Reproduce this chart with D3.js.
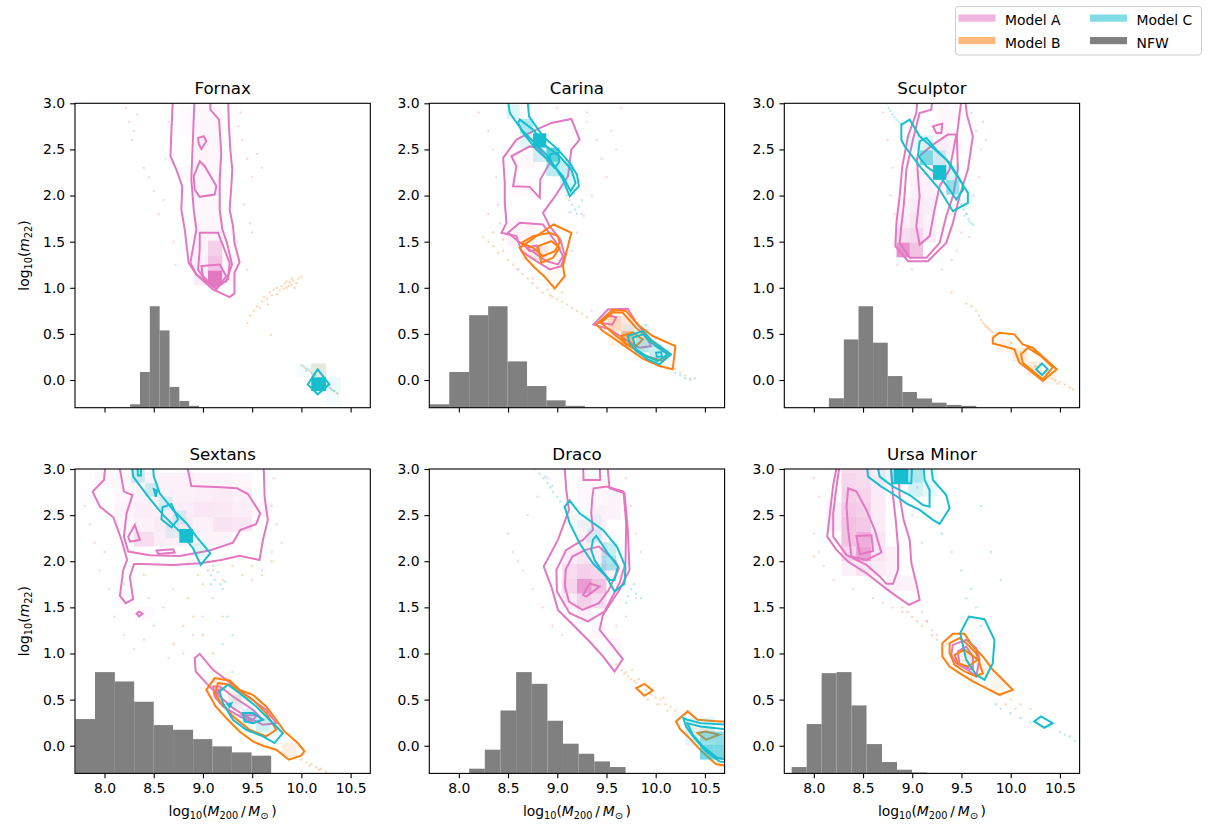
<!DOCTYPE html>
<html>
<head>
<meta charset="utf-8">
<script src="https://cdn.jsdelivr.net/npm/d3@7"></script>
<style>
  body { margin: 0; background: #fff; }
  svg { font-family: "DejaVu Sans", sans-serif; }
</style>
</head>
<body>
<svg id="chart" width="1214" height="824"></svg>
<script>
// ---------- data ----------
const galaxies = ["Fornax", "Carina", "Sculptor", "Sextans", "Draco", "Ursa Minor"];
const models = ["Model A", "Model B", "Model C", "NFW"];
const modelColors = ["#e377c2", "#ff7f0e", "#17becf", "#808080"];
const xTicks = [8.0, 8.5, 9.0, 9.5, 10.0, 10.5];
const yTicks = [0.0, 0.5, 1.0, 1.5, 2.0, 2.5, 3.0];
const xDomain = [7.7, 10.7];
const yDomain = [-0.3, 3.0];

// NFW halo-mass histograms: bin edges and bar tops (bars rise from the lower axis limit)
const fornaxNfwEdges = [8.26, 8.36, 8.46, 8.56, 8.66, 8.76, 8.86, 8.96];
const fornaxNfwTops = [-0.263, 0.087, 0.80, 0.538, -0.075, -0.227, -0.28];
const carinaNfwEdges = [7.706, 7.903, 8.105, 8.298, 8.495, 8.693, 8.89, 9.085, 9.28];
const carinaNfwTops = [-0.263, 0.087, 0.703, 0.80, 0.202, -0.065, -0.22, -0.28];
const sculptorNfwEdges = [8.153, 8.305, 8.454, 8.602, 8.751, 8.9, 9.048, 9.2, 9.349, 9.498, 9.65];
const sculptorNfwTops = [-0.198, 0.44, 0.80, 0.405, 0.043, -0.13, -0.20, -0.245, -0.27, -0.28];
const sextansNfwEdges = [7.705, 7.903, 8.105, 8.301, 8.5, 8.696, 8.9, 9.095, 9.294, 9.494, 9.693];
const sextansNfwTops = [0.289, 0.798, 0.697, 0.477, 0.224, 0.173, 0.072, -0.007, -0.072, -0.108];
const dracoNfwEdges = [8.105, 8.264, 8.423, 8.582, 8.741, 8.9, 9.058, 9.217, 9.376, 9.535, 9.694];
const dracoNfwTops = [-0.249, -0.043, 0.382, 0.798, 0.671, 0.271, 0.022, -0.087, -0.17, -0.231];
const ursaNfwEdges = [7.775, 7.927, 8.079, 8.231, 8.383, 8.535, 8.693, 8.845, 8.997, 9.149];
const ursaNfwTops = [-0.231, 0.235, 0.787, 0.798, 0.437, 0.018, -0.177, -0.26, -0.29];

// Credible-region contours, flat [x, y, x, y, ...] in (log10 M200, log10 m22)
const fornaxContoursA = [
  [8.697,3.1, 8.68,2.715, 8.67,2.426, 8.73,2.28, 8.79,2.10, 8.78,1.85, 8.815,1.63, 8.855,1.27, 8.933,1.144, 9.10,0.982, 9.271,0.899, 9.32,0.939, 9.32,1.162, 9.372,1.278, 9.32,1.487, 9.305,1.668, 9.271,1.848, 9.288,2.10, 9.298,2.28, 9.278,2.50, 9.264,2.75, 9.254,3.1],
  [8.916,3.1, 8.899,2.643, 8.882,2.173, 8.906,1.848, 8.933,1.632, 8.872,1.271, 8.933,1.144, 9.102,1.011, 9.237,1.072, 9.295,1.253, 9.244,1.487, 9.197,1.632, 9.17,1.848, 9.17,2.173, 9.186,2.462, 9.163,2.823, 9.075,2.931, 9.075,3.1],
  [8.95,2.625, 9.007,2.643, 9.034,2.588, 8.984,2.505, 8.957,2.563],
  [8.906,2.209, 8.967,2.372, 9.018,2.318, 9.136,2.101, 9.119,2.011, 8.967,1.986, 8.916,2.065],
  [8.967,1.596, 9.153,1.596, 9.271,1.271, 9.254,1.090, 9.136,1.0, 9.018,1.090, 8.95,1.199, 8.967,1.415],
  [8.984,1.235, 9.17,1.253, 9.237,1.126, 9.136,0.982, 9.0,1.126]
];
const fornaxContoursB = [];
const fornaxContoursC = [
  [10.166,0.116, 10.284,-0.047, 10.166,-0.155, 10.065,-0.047]
];

const carinaContoursA = [
  [8.45,2.408, 8.585,2.606, 8.788,2.715, 8.94,2.787, 9.143,2.83, 9.227,2.606, 9.143,2.498, 9.109,2.209, 8.99,2.011, 8.855,1.812, 8.923,1.668, 9.031,1.523, 9.075,1.361, 9.041,1.235, 8.923,1.199, 8.788,1.289, 8.636,1.397, 8.585,1.56, 8.433,1.596, 8.484,1.704, 8.467,1.921, 8.467,2.137],
  [8.551,2.101, 8.585,2.318, 8.534,2.426, 8.72,2.534, 8.805,2.516, 8.923,2.354, 8.828,2.173, 8.822,1.975, 8.72,2.094],
  [8.50,1.596, 8.619,1.704, 8.855,1.686, 8.99,1.487, 9.058,1.343, 9.007,1.253, 8.889,1.289, 8.72,1.415, 8.602,1.505],
  [8.687,1.433, 8.788,1.458, 8.805,1.415, 8.72,1.397],
  [9.369,0.603, 9.514,0.765, 9.717,0.773, 9.801,0.621, 9.886,0.513, 9.953,0.368, 9.835,0.35, 9.666,0.458, 9.531,0.549],
  [9.43,0.62, 9.52,0.70, 9.60,0.68, 9.56,0.60]
];
const carinaContoursB = [
  [8.619,1.433, 8.788,1.56, 8.963,1.686, 9.143,1.596, 9.092,1.379, 9.058,1.235, 9.075,1.126, 8.974,0.993, 8.872,1.119, 8.771,1.217, 8.686,1.314],
  [8.636,1.487, 8.754,1.56, 8.923,1.596, 9.007,1.56, 9.024,1.487, 8.974,1.397, 8.855,1.343, 8.754,1.433],
  [8.805,1.451, 8.94,1.505, 9.024,1.433, 8.957,1.325, 8.838,1.271],
  [9.396,0.603, 9.565,0.765, 9.70,0.747, 9.835,0.585, 9.97,0.477, 10.2,0.368, 10.173,0.116, 10.038,0.152, 9.869,0.231, 9.734,0.332, 9.615,0.422, 9.463,0.531],
  [9.446,0.621, 9.565,0.736, 9.666,0.729, 9.801,0.567, 9.936,0.441, 10.122,0.296, 10.072,0.206, 9.903,0.26, 9.734,0.368, 9.598,0.477],
  [9.649,0.477, 9.767,0.513, 9.869,0.44, 9.801,0.368, 9.70,0.386]
];
const carinaContoursC = [
  [8.49,3.1, 8.518,2.895, 8.636,2.715, 8.771,2.570, 8.889,2.444, 8.974,2.318, 9.058,2.173, 9.126,1.993, 9.22,2.101, 9.2,2.227, 9.126,2.354, 9.007,2.498, 8.855,2.643, 8.713,2.859, 8.693,3.1],
  [8.619,2.823, 8.754,2.715, 8.889,2.534, 9.024,2.426, 9.143,2.282, 9.186,2.137, 9.136,2.047, 9.058,2.209, 8.94,2.354, 8.788,2.498, 8.653,2.679, 8.602,2.787],
  [8.923,2.444, 9.007,2.462, 9.024,2.372, 8.974,2.30, 8.94,2.336],
  [9.717,0.477, 9.869,0.531, 9.97,0.422, 10.156,0.278, 10.038,0.17, 9.919,0.224, 9.801,0.314, 9.734,0.404],
  [9.767,0.458, 9.869,0.495, 9.953,0.404, 10.122,0.278, 10.021,0.206, 9.903,0.26, 9.801,0.332],
  [10.004,0.296, 10.055,0.303, 10.065,0.253, 10.011,0.253]
];

const sculptorContoursA = [
  [9.058,3.1, 9.041,2.895, 8.957,2.643, 8.899,2.318, 8.872,1.993, 8.839,1.704, 8.828,1.451, 8.957,1.289, 9.159,1.289, 9.345,1.487, 9.413,1.704, 9.48,1.993, 9.565,2.282, 9.616,2.643, 9.555,2.877, 9.531,3.1],
  [9.21,3.1, 9.193,2.931, 9.075,2.895, 9.007,2.606, 8.94,2.282, 8.916,1.921, 8.889,1.668, 8.872,1.487, 8.974,1.325, 9.143,1.325, 9.278,1.487, 9.345,1.776, 9.413,1.993, 9.463,2.282, 9.453,2.643, 9.48,2.877, 9.507,3.1],
  [9.048,2.408, 9.21,2.552, 9.362,2.661, 9.447,2.661, 9.413,2.462, 9.379,2.282, 9.278,2.101, 9.227,1.848, 9.176,1.56, 9.075,1.469, 9.041,1.668, 9.075,1.993, 9.058,2.209],
  [9.21,2.751, 9.305,2.78, 9.295,2.679, 9.244,2.679]
];
const sculptorContoursB = [
  [9.818,0.458, 9.886,0.513, 10.038,0.495, 10.122,0.386, 10.224,0.35, 10.467,0.116, 10.325,-0.011, 10.224,0.079, 10.088,0.188, 10.038,0.332, 9.919,0.368, 9.818,0.397],
  [10.105,0.278, 10.173,0.35, 10.308,0.26, 10.426,0.137, 10.325,0.007, 10.224,0.097, 10.122,0.188]
];
const sculptorContoursC = [
  [8.889,2.769, 8.974,2.823, 9.075,2.643, 9.345,2.39, 9.48,2.173, 9.565,2.029, 9.565,1.921, 9.413,1.83, 9.278,2.065, 9.075,2.318, 8.923,2.534, 8.889,2.606],
  [9.075,2.588, 9.143,2.625, 9.244,2.498, 9.379,2.354, 9.514,2.119, 9.514,2.058, 9.447,1.957, 9.379,2.065, 9.278,2.209, 9.143,2.318, 9.058,2.433],
  [10.318,0.18, 10.376,0.116, 10.318,0.054, 10.258,0.116]
];

const sextansContoursA = [
  [8.014,3.1, 7.994,2.881, 7.879,2.755, 7.953,2.592, 8.089,2.477, 8.173,2.231, 8.23,2.014, 8.19,1.906, 8.156,1.625, 8.217,1.545, 8.291,1.588, 8.257,1.834, 8.30,1.97, 8.393,1.971, 8.697,1.96, 8.967,1.978, 9.186,2.014, 9.372,2.058, 9.575,2.014, 9.609,2.231, 9.659,2.448, 9.626,2.70, 9.615,3.1],
  [8.139,3.1, 8.197,2.755, 8.284,2.718, 8.224,2.52, 8.197,2.267, 8.241,2.105, 8.46,2.065, 8.764,2.058, 9.068,2.116, 9.305,2.202, 9.379,2.339, 9.541,2.404, 9.582,2.52, 9.457,2.729, 9.345,2.791, 9.186,2.802, 8.882,2.816, 8.825,3.1],
  [8.352,1.455, 8.386,1.43, 8.352,1.401, 8.325,1.43],
  [8.308,2.394, 8.359,2.231, 8.257,2.213, 8.241,2.267],
  [8.528,2.116, 8.697,2.13, 8.713,2.094, 8.545,2.079],
  [8.916,0.949, 8.967,0.996, 9.102,0.823, 9.237,0.715, 9.389,0.588, 9.524,0.48, 9.642,0.39, 9.744,0.245, 9.609,0.227, 9.44,0.318, 9.305,0.408, 9.17,0.534, 9.034,0.679, 8.926,0.805],
  [9.102,0.643, 9.17,0.643, 9.305,0.534, 9.507,0.39, 9.609,0.282, 9.507,0.245, 9.372,0.318, 9.203,0.426, 9.119,0.534],
  [9.13,0.60, 9.17,0.61, 9.16,0.57],
  [9.40,0.33, 9.55,0.33, 9.50,0.27]
];
const sextansContoursB = [
  [9.119,0.733, 9.271,0.708, 9.372,0.606, 9.507,0.552, 9.642,0.426, 9.744,0.282, 9.828,0.155, 9.963,0.029, 10.031,-0.061, 9.997,-0.108, 9.872,-0.152, 9.744,-0.043, 9.609,0.0, 9.507,0.047, 9.372,0.155, 9.237,0.30, 9.129,0.426, 9.034,0.606],
  [9.153,0.679, 9.271,0.661, 9.507,0.498, 9.642,0.354, 9.744,0.173, 9.642,0.101, 9.473,0.173, 9.305,0.318, 9.186,0.462, 9.119,0.57]
];
const sextansContoursC = [
  [8.274,3.1, 8.291,2.917, 8.443,2.70, 8.595,2.502, 8.764,2.321, 8.899,2.141, 8.977,1.96, 9.075,2.087, 8.933,2.267, 8.832,2.412, 8.697,2.556, 8.561,2.736, 8.501,2.917, 8.487,3.1],
  [8.589,2.585, 8.68,2.621, 8.747,2.455, 8.68,2.368, 8.578,2.455],
  [8.501,2.78, 8.534,2.765, 8.521,2.70],
  [8.33,3.1, 8.34,2.93, 8.37,2.93, 8.37,3.1],
  [9.169,0.588, 9.254,0.661, 9.372,0.57, 9.541,0.426, 9.676,0.282, 9.811,0.137, 9.727,0.029, 9.609,0.101, 9.44,0.173, 9.305,0.282, 9.203,0.462],
  [9.406,0.354, 9.507,0.354, 9.609,0.282, 9.507,0.245, 9.423,0.263],
  [9.25,0.45, 9.29,0.46, 9.27,0.42]
];

const dracoContoursA = [
  [9.068,3.1, 9.092,2.773, 9.119,2.556, 9.007,2.231, 8.862,1.942, 8.94,1.726, 9.007,1.473, 9.159,1.311, 9.328,1.13, 9.464,0.968, 9.582,0.805, 9.666,0.939, 9.565,1.076, 9.43,1.256, 9.464,1.419, 9.632,1.69, 9.734,1.906, 9.717,2.339, 9.683,2.736, 9.531,2.791, 9.504,3.1],
  [9.355,2.682, 9.369,2.791, 9.504,2.809, 9.673,2.755, 9.70,2.412, 9.693,1.978, 9.632,1.762, 9.48,1.455, 9.311,1.347, 9.126,1.437, 8.997,1.671, 8.991,1.906, 9.092,2.123, 9.261,2.231, 9.362,2.339, 9.345,2.52],
  [9.261,3.1, 9.267,2.881, 9.436,2.881, 9.43,3.1],
  [9.085,1.906, 9.153,2.051, 9.288,2.123, 9.423,2.159, 9.592,1.996, 9.626,1.924, 9.524,1.69, 9.423,1.545, 9.255,1.473, 9.119,1.563, 9.078,1.726],
  [9.261,1.635, 9.328,1.76, 9.43,1.726, 9.295,1.617]
];
const dracoContoursB = [
  [10.207,0.264, 10.325,0.372, 10.426,0.282, 10.646,0.264, 10.75,0.264, 10.75,-0.224, 10.612,-0.199, 10.477,-0.072, 10.342,0.083, 10.247,0.181],
  [10.426,0.137, 10.511,0.155, 10.646,0.119, 10.511,0.065],
  [9.801,0.625, 9.886,0.671, 9.97,0.599, 9.886,0.542]
];
const dracoContoursC = [
  [9.075,2.592, 9.126,2.657, 9.227,2.52, 9.464,2.339, 9.605,2.159, 9.693,1.942, 9.683,1.755, 9.582,1.671, 9.497,1.834, 9.362,1.978, 9.227,2.195, 9.126,2.412],
  [9.362,2.231, 9.396,2.275, 9.447,2.195, 9.514,2.087, 9.616,1.942, 9.582,1.798, 9.531,1.798, 9.447,1.906, 9.379,2.014, 9.345,2.123],
  [10.281,0.3, 10.321,0.282, 10.456,0.245, 10.75,0.227, 10.75,-0.188, 10.646,-0.17, 10.511,-0.061, 10.393,0.083, 10.308,0.209],
  [10.321,0.245, 10.456,0.209, 10.75,0.173, 10.75,-0.152, 10.629,-0.134, 10.477,-0.007, 10.376,0.119]
];

const ursaContoursA = [
  [8.247,3.1, 8.197,2.827, 8.163,2.52, 8.136,2.267, 8.23,2.123, 8.349,1.996, 8.534,1.87, 8.686,1.744, 8.805,1.646, 8.967,1.527, 9.075,1.581, 9.041,1.762, 8.991,1.978, 8.974,2.231, 8.913,2.448, 8.872,2.70, 8.855,3.1],
  [8.271,3.1, 8.23,2.809, 8.197,2.52, 8.197,2.267, 8.332,2.069, 8.534,1.96, 8.67,1.834, 8.737,1.755, 8.805,1.755, 8.855,1.906, 8.855,2.159, 8.832,2.448, 8.805,2.70, 8.778,3.1],
  [8.349,2.791, 8.433,2.755, 8.534,2.556, 8.619,2.339, 8.686,2.094, 8.534,2.014, 8.382,2.051, 8.349,2.339, 8.332,2.592],
  [8.433,2.274, 8.585,2.282, 8.602,2.112, 8.467,2.076],
  [9.413,1.094, 9.548,1.148, 9.649,1.058, 9.683,0.932, 9.649,0.751, 9.565,0.823, 9.447,0.895, 9.396,0.986],
  [9.464,1.022, 9.548,1.076, 9.616,0.968, 9.616,0.823, 9.48,0.877]
];
const ursaContoursB = [
  [9.305,1.112, 9.413,1.213, 9.531,1.213, 9.616,1.076, 9.717,0.968, 9.818,0.823, 9.92,0.715, 10.021,0.606, 9.886,0.552, 9.751,0.625, 9.616,0.697, 9.48,0.787, 9.379,0.859, 9.305,0.968],
  [9.379,1.112, 9.48,1.166, 9.548,1.112, 9.649,1.004, 9.683,0.895, 9.717,0.787, 9.649,0.751, 9.531,0.805, 9.43,0.877, 9.379,1.004],
  [9.43,0.986, 9.531,1.04, 9.666,0.932, 9.565,0.859, 9.464,0.895]
];
const ursaContoursC = [
  [8.534,3.1, 8.551,2.917, 8.686,2.809, 8.822,2.718, 8.94,2.628, 9.075,2.556, 9.21,2.448, 9.278,2.404, 9.379,2.574, 9.345,2.718, 9.21,2.881, 9.183,3.1],
  [8.636,3.1, 8.669,2.917, 8.805,2.809, 8.974,2.718, 9.109,2.61, 9.176,2.592, 9.176,2.773, 9.126,2.881, 9.109,3.1],
  [8.78,3.1, 8.795,2.845, 8.99,2.845, 9.0,3.1],
  [9.487,1.22, 9.575,1.401, 9.734,1.372, 9.835,1.148, 9.818,0.895, 9.734,0.715, 9.649,0.769, 9.548,0.931],
  [10.24,0.264, 10.308,0.318, 10.426,0.245, 10.342,0.195]
];

// 2D posterior histogram cells: flat [x0, y0, weight, ...]; bin sizes [dx, dy]
const fornaxBinsA = [0.145, 0.162];
const fornaxCellsA = [9.051,1.025,1.0, 9.051,1.187,0.45, 9.051,1.349,0.35, 8.906,1.025,0.12, 8.906,1.187,0.1, 8.906,1.349,0.08, 9.196,1.025,0.05, 9.196,1.187,0.05, 8.906,1.511,0.07, 9.051,1.511,0.07, 8.906,1.673,0.06, 9.051,1.673,0.05, 8.906,1.835,0.06, 9.051,1.835,0.05, 8.906,1.997,0.06, 9.051,1.997,0.06, 8.761,2.159,0.04, 8.906,2.159,0.07, 9.051,2.159,0.06, 8.906,2.321,0.08, 9.051,2.321,0.05, 8.906,2.483,0.1, 9.051,2.483,0.06, 8.906,2.645,0.07, 9.051,2.645,0.05, 8.761,2.645,0.04, 8.761,2.807,0.04, 8.906,2.807,0.05, 9.051,2.807,0.05];
const fornaxBinsB = [0.15, 0.15];
const fornaxCellsB = [10.10,0.03,0.12];
const fornaxBinsC = [0.15, 0.15];
const fornaxCellsC = [10.10,-0.12,1.0, 10.10,0.03,0.1, 10.25,-0.12,0.08, 10.25,-0.27,0.04, 9.95,0.03,0.04];

const carinaBinsA = [0.135, 0.155];
const carinaCellsA = [8.5,1.45,0.1, 8.635,1.45,0.08, 8.77,1.3,0.08, 8.635,1.3,0.06, 8.5,1.6,0.05, 8.635,1.6,0.06, 8.5,2.0,0.04, 8.635,2.0,0.05, 8.635,2.3,0.05, 8.77,2.3,0.04, 8.5,2.3,0.04, 9.53,0.55,0.08, 9.665,0.55,0.06, 9.665,0.4,0.06];
const carinaBinsB = [0.135, 0.16];
const carinaCellsB = [9.649,0.37,0.5, 9.514,0.53,0.25, 9.649,0.53,0.12, 9.784,0.37,0.12, 9.784,0.21,0.08, 9.514,0.37,0.08, 8.77,1.3,0.1, 8.635,1.3,0.06, 8.905,1.14,0.05];
const carinaBinsC = [0.135, 0.155];
const carinaCellsC = [8.754,2.52,1.0, 8.889,2.365,0.7, 8.619,2.675,0.35, 8.484,2.83,0.15, 8.889,2.21,0.3, 9.024,2.21,0.25, 9.024,2.055,0.15, 8.754,2.365,0.2, 8.619,2.52,0.12, 9.8,0.3,0.3, 9.935,0.22,0.25, 9.8,0.45,0.12, 9.665,0.45,0.08];

const sculptorBinsA = [0.135, 0.16];
const sculptorCellsA = [8.84,1.33,0.8, 8.975,1.33,0.45, 8.84,1.49,0.25, 8.975,1.49,0.3, 9.11,1.49,0.12, 8.975,1.65,0.2, 8.84,1.65,0.12, 9.11,1.65,0.1, 8.975,1.81,0.15, 8.84,1.81,0.08, 9.11,1.81,0.12, 8.975,1.97,0.1, 9.11,1.97,0.1, 9.245,1.97,0.08, 8.975,2.13,0.08, 9.11,2.13,0.1, 9.245,2.13,0.08, 9.11,2.29,0.08, 9.245,2.29,0.1, 9.245,2.45,0.12, 9.11,2.45,0.06, 9.245,2.61,0.08, 9.38,2.45,0.06, 9.245,2.77,0.05, 9.38,2.77,0.05, 9.245,2.93,0.05, 9.38,2.93,0.04];
const sculptorBinsB = [0.15, 0.15];
const sculptorCellsB = [9.87,0.3,0.08, 10.02,0.2,0.15, 10.17,0.05,0.15, 10.32,-0.05,0.06];
const sculptorBinsC = [0.135, 0.16];
const sculptorCellsC = [9.21,2.17,1.0, 9.075,2.33,0.55, 9.21,2.33,0.2, 9.345,2.01,0.45, 9.075,2.49,0.15, 8.94,2.49,0.1, 9.345,2.17,0.15, 9.48,1.85,0.06];

const sextansBinsA = [0.2, 0.16];
const sextansCellsA = [8.3,2.16,0.25, 8.1,2.48,0.08, 8.3,2.48,0.12, 8.5,2.32,0.15, 8.7,2.48,0.12, 8.9,2.48,0.18, 9.1,2.48,0.16, 9.1,2.32,0.2, 9.3,2.32,0.18, 8.9,2.64,0.12, 9.1,2.64,0.15, 8.7,2.64,0.1, 8.5,2.64,0.1, 8.5,2.48,0.1, 8.3,2.8,0.08, 8.5,2.8,0.1, 8.7,2.8,0.1, 8.9,2.8,0.08, 9.1,2.8,0.08, 9.3,2.64,0.1, 9.3,2.48,0.12, 8.5,2.16,0.12, 8.7,2.16,0.1, 8.9,2.16,0.08, 9.1,2.16,0.08, 8.1,2.64,0.06, 7.9,2.8,0.05, 8.1,2.8,0.06, 9.5,2.48,0.06, 8.3,2.32,0.1, 8.7,2.32,0.15, 8.9,2.32,0.1, 8.1,2.32,0.05, 8.3,2.64,0.08, 9.3,2.8,0.05, 8.1,1.5,0.04, 8.3,1.35,0.04, 9.1,0.6,0.05, 9.3,0.4,0.08];
const sextansBinsB = [0.15, 0.15];
const sextansCellsB = [9.8,-0.12,0.12, 9.1,0.6,0.08, 9.25,0.45,0.08, 9.55,0.25,0.06];
const sextansBinsC = [0.14, 0.15];
const sextansCellsC = [8.76,2.2,1.0, 8.27,2.85,0.2, 8.41,2.7,0.2, 8.55,2.55,0.15, 8.69,2.4,0.15, 8.9,2.05,0.12, 8.62,2.25,0.1, 9.4,0.25,0.2, 9.54,0.15,0.2, 9.26,0.4,0.1, 9.68,0.1,0.1];

const dracoBinsA = [0.15, 0.16];
const dracoCellsA = [9.2,1.65,0.75, 9.35,1.65,0.45, 9.2,1.49,0.35, 9.05,1.65,0.3, 9.05,1.81,0.25, 9.2,1.81,0.35, 9.35,1.81,0.3, 9.35,1.49,0.25, 9.05,1.49,0.15, 9.2,1.97,0.2, 9.35,1.97,0.15, 9.05,1.97,0.12, 9.2,2.13,0.1, 9.35,2.13,0.1, 9.2,2.29,0.08, 9.35,2.29,0.1, 9.35,2.45,0.1, 9.5,2.45,0.08, 9.35,2.61,0.06, 9.5,2.61,0.08, 9.2,2.61,0.05, 9.2,2.77,0.05, 9.35,2.77,0.06, 9.05,2.45,0.04, 9.2,1.33,0.1, 9.35,1.17,0.06, 9.5,1.01,0.05, 9.5,1.81,0.1];
const dracoBinsB = [0.15, 0.15];
const dracoCellsB = [10.3,0.1,0.08, 10.45,0.05,0.1];
const dracoBinsC = [0.15, 0.155];
const dracoCellsC = [9.45,1.9,0.35, 9.45,2.05,0.25, 9.3,2.2,0.15, 9.3,2.355,0.08, 9.15,2.355,0.06, 10.45,-0.15,0.6, 10.6,-0.15,0.6, 10.45,0.0,0.45, 10.6,0.0,0.5, 10.3,0.0,0.12, 10.3,0.15,0.1, 10.45,0.15,0.15];

const ursaBinsA = [0.15, 0.16];
const ursaCellsA = [8.43,2.0,0.7, 8.43,2.16,0.6, 8.28,2.16,0.45, 8.28,2.32,0.45, 8.43,2.32,0.4, 8.28,2.48,0.4, 8.43,2.48,0.35, 8.28,2.64,0.35, 8.43,2.64,0.3, 8.28,2.80,0.3, 8.43,2.8,0.25, 8.28,2.96,0.25, 8.43,2.96,0.25, 8.28,2.0,0.3, 8.58,2.0,0.2, 8.58,1.84,0.15, 8.58,2.16,0.2, 8.58,2.32,0.15, 8.58,2.48,0.15, 8.58,2.64,0.15, 8.58,2.8,0.12, 8.58,2.96,0.12, 8.73,1.68,0.1, 8.73,1.84,0.1, 8.73,2.0,0.1, 8.88,1.68,0.08, 8.13,2.32,0.1, 8.13,2.48,0.1, 8.43,1.84,0.2, 8.28,1.84,0.1];
const ursaBinsB = [0.15, 0.15];
const ursaCellsB = [9.5,0.9,0.15, 9.65,0.75,0.1, 9.8,0.6,0.08];
const ursaBinsC = [0.15, 0.15];
const ursaCellsC = [8.81,2.85,1.0, 8.96,2.85,0.35, 8.96,2.7,0.2, 9.11,2.7,0.1, 8.66,2.85,0.1, 9.11,2.85,0.08, 9.55,0.85,0.06, 9.55,1.0,0.06];

// Posterior samples outside the contours, flat [x, y, ...]
const fornaxPointsA = [8.22,2.95, 8.25,2.8, 8.3,2.7, 8.28,2.6, 8.33,2.88, 8.45,2.2, 8.5,2.05, 8.55,1.8, 8.6,1.95, 9.4,2.6, 9.45,2.4, 9.5,2.2, 9.38,2.9, 9.55,2.45, 9.42,1.9, 9.48,1.7, 9.35,1.5, 8.62,2.4, 8.7,1.5, 9.6,2.3, 8.4,2.3, 9.45,1.2, 8.65,2.8, 9.36,2.75, 8.72,1.25, 9.5,1.6];
const fornaxPointsB = [9.45,0.62, 9.48,0.7, 9.52,0.75, 9.55,0.8, 9.6,0.85, 9.62,0.9, 9.65,0.88, 9.68,0.95, 9.7,0.92, 9.72,0.98, 9.75,1.0, 9.78,0.97, 9.8,1.02, 9.83,1.05, 9.85,1.0, 9.88,1.06, 9.9,1.03, 9.92,1.08, 9.95,1.05, 9.97,1.1, 9.75,0.93, 9.82,0.99, 9.87,1.02, 9.58,0.78, 9.66,0.82, 9.69,0.49, 10.0,1.12, 9.9,1.1, 9.85,1.07, 9.93,1.0, 10.0,0.16, 10.04,0.13, 10.08,0.1, 10.12,0.06, 10.2,0.0, 10.26,-0.05, 10.3,-0.09, 10.34,-0.12, 10.37,-0.15];
const fornaxPointsC = [10.02,0.15, 10.06,0.12, 10.1,0.08, 10.14,0.05, 10.18,0.02, 10.22,-0.02, 10.26,-0.06, 10.3,-0.1, 10.33,-0.12, 10.36,-0.14, 10.05,0.1, 10.12,0.04, 10.24,-0.04, 10.28,-0.08, 10.32,-0.11];

const carinaPointsA = [8.2,2.9, 8.3,2.7, 8.35,2.5, 8.38,2.2, 8.4,1.9, 8.42,1.7, 8.3,1.8, 9.3,2.8, 9.4,2.6, 9.45,2.4, 9.5,2.2, 9.35,2.0, 9.25,1.8, 9.2,1.6, 9.15,1.4, 9.3,2.9, 9.6,2.5, 9.55,2.7, 9.0,2.95, 8.6,1.2, 8.75,1.1, 9.35,0.75, 9.9,0.6, 10.0,0.45, 8.7,3.0, 9.65,2.95];
const carinaPointsB = [8.25,1.55, 8.3,1.5, 8.35,1.45, 8.4,1.38, 8.45,1.4, 8.5,1.3, 8.55,1.25, 8.6,1.2, 8.65,1.15, 8.7,1.1, 8.75,1.05, 8.8,1.0, 8.85,0.95, 8.9,0.98, 8.95,0.9, 9.0,0.88, 9.05,0.85, 9.1,0.82, 9.15,0.78, 9.2,0.75, 9.25,0.72, 9.3,0.68, 9.05,0.95, 8.98,1.0, 8.93,0.92, 10.25,0.08, 10.3,0.05, 10.35,0.02, 10.2,0.12, 8.35,1.6, 8.45,1.52];
const carinaPointsC = [9.1,2.0, 9.12,1.95, 9.15,1.9, 9.18,1.85, 9.2,1.8, 9.22,1.88, 9.17,2.02, 9.25,1.95, 9.13,1.82, 9.27,1.78, 10.25,0.05, 10.3,0.02, 10.35,0.0, 10.4,0.02, 10.2,0.08];

const sculptorPointsA = [8.7,2.9, 8.75,2.6, 8.8,2.3, 8.78,2.0, 8.82,1.8, 8.85,1.25, 9.0,1.2, 9.6,2.9, 9.65,2.7, 9.7,2.5, 9.68,2.2, 9.62,2.0, 9.55,1.8, 9.5,1.6, 9.45,1.4, 9.4,1.3, 9.72,2.8, 9.3,1.2, 9.75,2.6, 9.35,3.0, 8.9,3.0, 9.58,1.55];
const sculptorPointsB = [9.55,0.83, 9.6,0.8, 9.65,0.75, 9.68,0.7, 9.7,0.65, 9.72,0.62, 9.75,0.58, 9.78,0.55, 9.8,0.53, 9.82,0.52, 9.85,0.5, 9.74,0.6, 9.77,0.57, 9.83,0.48, 10.0,0.4, 10.1,0.3, 10.25,0.15, 10.4,0.05, 10.45,0.0, 10.5,-0.02, 10.55,-0.05, 10.6,-0.08, 10.63,-0.1, 10.48,-0.04, 9.4,0.95, 10.35,0.1, 10.42,0.02];
const sculptorPointsC = [8.74,3.0, 8.76,2.95, 8.78,2.92, 8.8,2.88, 8.82,2.85, 8.84,2.82, 8.86,2.8, 8.88,2.78, 8.9,2.76, 9.48,1.95, 9.5,1.9, 9.52,1.85, 9.55,1.8, 9.57,1.75, 9.6,1.7, 9.62,1.68, 9.53,1.78, 9.58,1.72];

const sextansPointsA = [7.8,2.6, 7.85,2.4, 7.9,2.2, 8.0,2.1, 7.95,1.9, 8.05,1.7, 8.1,1.4, 8.2,1.2, 8.3,1.05, 8.4,1.15, 8.5,1.3, 8.6,1.5, 8.7,1.7, 8.8,1.0, 8.9,1.2, 9.0,1.4, 9.1,1.6, 9.5,1.8, 9.6,1.9, 9.7,2.1, 9.75,2.4, 9.7,2.6, 9.72,2.9, 9.8,2.2, 8.45,1.6, 8.65,0.95];
const sextansPointsB = [8.95,1.85, 9.0,1.75, 9.1,1.9, 9.2,1.8, 9.3,1.95, 9.4,1.85, 9.5,1.95, 9.6,1.85, 9.7,2.0, 8.85,1.6, 8.9,1.4, 9.0,1.2, 8.8,1.3, 8.7,1.1, 9.1,1.0, 9.2,1.4, 10.0,-0.15, 10.05,-0.18, 10.1,-0.2, 10.15,-0.23, 10.2,-0.25, 10.25,-0.28, 10.08,-0.22, 10.18,-0.26, 8.2,1.75, 8.4,1.85];
const sextansPointsC = [9.05,1.9, 9.08,1.85, 9.1,1.95, 9.12,1.8, 9.15,1.88, 9.18,1.75, 9.2,1.7, 9.22,1.78, 9.08,1.75, 9.25,1.4, 9.3,1.2, 9.2,1.1, 9.3,0.8];

const dracoPointsA = [8.5,2.3, 8.55,2.1, 8.6,2.0, 8.65,1.9, 8.7,2.5, 8.8,2.7, 8.9,2.9, 8.75,1.7, 8.85,1.5, 9.8,2.3, 9.85,2.1, 9.75,2.6, 9.8,1.6, 9.7,1.4, 9.6,1.3, 9.7,2.9, 8.95,1.3, 9.05,1.2];
const dracoPointsB = [9.6,0.88, 9.65,0.82, 9.7,0.8, 9.72,0.75, 9.75,0.72, 9.78,0.7, 9.8,0.68, 9.85,0.65, 9.9,0.6, 9.95,0.56, 10.0,0.52, 10.05,0.5, 10.1,0.45, 10.15,0.42, 10.2,0.38, 9.68,0.78, 9.83,0.72, 9.92,0.5, 10.02,0.45, 10.12,0.38, 9.88,0.55, 9.76,0.82, 10.08,0.52];
const dracoPointsC = [8.78,3.0, 8.82,2.95, 8.86,2.9, 8.9,2.85, 8.93,2.8, 8.96,2.75, 9.0,2.7, 9.03,2.65, 8.88,2.92, 8.95,2.82, 9.75,1.7, 9.8,1.65, 9.85,1.6, 9.7,1.55, 9.78,1.75, 9.72,1.62];

const ursaPointsA = [8.0,2.3, 8.05,2.1, 8.1,1.95, 8.2,1.8, 8.4,1.7, 8.6,1.6, 8.7,1.55, 8.8,1.5, 9.1,1.45, 9.15,1.35, 9.2,1.25, 9.25,1.2, 9.0,2.5, 9.05,2.8, 9.1,2.2, 8.05,2.7, 8.0,2.9, 8.9,1.45];
const ursaPointsB = [8.0,2.05, 8.9,1.5, 9.0,1.4, 9.1,1.3, 9.15,1.35, 9.2,1.2, 9.25,1.15, 9.3,1.05, 9.35,1.1, 9.8,0.6, 9.9,0.55, 10.0,0.5, 10.1,0.45, 10.2,0.4, 9.95,0.45, 10.05,0.4, 8.95,1.45, 9.05,1.35];
const ursaPointsC = [9.3,2.3, 9.4,2.1, 9.5,1.9, 9.6,1.7, 9.65,1.5, 9.55,1.6, 9.7,2.6, 9.8,2.1, 9.9,1.8, 9.7,1.3, 9.9,0.4, 10.0,0.35, 10.1,0.3, 10.2,0.25, 10.4,0.2, 10.5,0.15, 10.6,0.1, 10.65,0.05, 10.3,0.22, 10.55,0.12, 9.85,0.45];

// ---------- assemble per-panel table ----------
const panels = [
  { nfw: [fornaxNfwEdges, fornaxNfwTops], contours: [fornaxContoursA, fornaxContoursB, fornaxContoursC],
    cells: [fornaxCellsA, fornaxCellsB, fornaxCellsC], bins: [fornaxBinsA, fornaxBinsB, fornaxBinsC],
    points: [fornaxPointsA, fornaxPointsB, fornaxPointsC] },
  { nfw: [carinaNfwEdges, carinaNfwTops], contours: [carinaContoursA, carinaContoursB, carinaContoursC],
    cells: [carinaCellsA, carinaCellsB, carinaCellsC], bins: [carinaBinsA, carinaBinsB, carinaBinsC],
    points: [carinaPointsA, carinaPointsB, carinaPointsC] },
  { nfw: [sculptorNfwEdges, sculptorNfwTops], contours: [sculptorContoursA, sculptorContoursB, sculptorContoursC],
    cells: [sculptorCellsA, sculptorCellsB, sculptorCellsC], bins: [sculptorBinsA, sculptorBinsB, sculptorBinsC],
    points: [sculptorPointsA, sculptorPointsB, sculptorPointsC] },
  { nfw: [sextansNfwEdges, sextansNfwTops], contours: [sextansContoursA, sextansContoursB, sextansContoursC],
    cells: [sextansCellsA, sextansCellsB, sextansCellsC], bins: [sextansBinsA, sextansBinsB, sextansBinsC],
    points: [sextansPointsA, sextansPointsB, sextansPointsC] },
  { nfw: [dracoNfwEdges, dracoNfwTops], contours: [dracoContoursA, dracoContoursB, dracoContoursC],
    cells: [dracoCellsA, dracoCellsB, dracoCellsC], bins: [dracoBinsA, dracoBinsB, dracoBinsC],
    points: [dracoPointsA, dracoPointsB, dracoPointsC] },
  { nfw: [ursaNfwEdges, ursaNfwTops], contours: [ursaContoursA, ursaContoursB, ursaContoursC],
    cells: [ursaCellsA, ursaCellsB, ursaCellsC], bins: [ursaBinsA, ursaBinsB, ursaBinsC],
    points: [ursaPointsA, ursaPointsB, ursaPointsC] }
];

// ---------- drawing ----------
const svg = d3.select("#chart");
const colLeft = [75, 429.3, 784.3];
const rowTop = [103.3, 469];
const pw = 295.3, ph = 304.4;
const tickFont = 13.9;

const x = d3.scaleLinear().domain(xDomain).range([0, pw]);
const y = d3.scaleLinear().domain(yDomain).range([ph, 0]);

const pairs = flat => d3.range(0, flat.length, 2).map(i => [flat[i], flat[i + 1]]);
const triples = flat => d3.range(0, flat.length, 3).map(i => [flat[i], flat[i + 1], flat[i + 2]]);
const ring = d3.line().x(d => x(d[0])).y(d => y(d[1])).curve(d3.curveLinearClosed);

function mathText(sel, parts, size) {
  const sub = size * 0.7;
  let shifted = false;
  parts.forEach(([t, kind]) => {
    const ts = sel.append("tspan").text(t);
    if (kind === "i") ts.attr("font-style", "italic");
    if (kind === "s") {
      ts.attr("font-size", sub).attr("dy", shifted ? 0 : size * 0.22);
      shifted = true;
    } else if (shifted) {
      ts.attr("dy", -size * 0.22);
      shifted = false;
    }
  });
}

panels.forEach((p, idx) => {
  const col = idx % 3, row = Math.floor(idx / 3);
  const g = svg.append("g").attr("transform", `translate(${colLeft[col]},${rowTop[row]})`);
  const clipId = "clip" + idx;
  g.append("clipPath").attr("id", clipId)
    .append("rect").attr("width", pw).attr("height", ph);
  const plot = g.append("g").attr("clip-path", `url(#${clipId})`);

  // NFW histogram
  const [edges, tops] = p.nfw;
  plot.append("g").selectAll("rect").data(tops).join("rect")
    .attr("x", (d, i) => x(edges[i]))
    .attr("width", (d, i) => x(edges[i + 1]) - x(edges[i]))
    .attr("y", d => y(d))
    .attr("height", d => y(yDomain[0]) - y(d))
    .attr("fill", modelColors[3]);

  for (let m = 0; m < 3; m++) {
    const color = modelColors[m];
    // posterior samples
    plot.append("g").selectAll("circle").data(pairs(p.points[m])).join("circle")
      .attr("cx", d => x(d[0])).attr("cy", d => y(d[1])).attr("r", 1.2)
      .attr("fill", color).attr("opacity", 0.3);
    // 2D histogram
    const [dx, dy] = p.bins[m];
    plot.append("g").selectAll("rect").data(triples(p.cells[m])).join("rect")
      .attr("x", d => x(d[0])).attr("y", d => y(d[1] + dy))
      .attr("width", x(xDomain[0] + dx) - x(xDomain[0]))
      .attr("height", y(yDomain[0]) - y(yDomain[0] + dy))
      .attr("fill", color).attr("opacity", d => d[2]);
    // contours
    plot.append("g").selectAll("path").data(p.contours[m].map(pairs)).join("path")
      .attr("d", ring).attr("fill", "none").attr("stroke", color)
      .attr("stroke-width", 2).attr("stroke-linejoin", "miter");
  }

  // frame
  g.append("rect").attr("width", pw).attr("height", ph)
    .attr("fill", "none").attr("stroke", "#000").attr("stroke-width", 1.1);

  // axes
  const xa = d3.axisBottom(x).tickValues(xTicks).tickSizeInner(4.9).tickSizeOuter(0).tickPadding(4.9)
    .tickFormat(row === 1 ? d3.format(".1f") : () => "");
  const gx = g.append("g").attr("transform", `translate(0,${ph})`).call(xa);
  const ya = d3.axisLeft(y).tickValues(yTicks).tickSizeInner(4.9).tickSizeOuter(0).tickPadding(4.9)
    .tickFormat(d3.format(".1f"));
  const gy = g.append("g").call(ya);
  [gx, gy].forEach(a => {
    a.select(".domain").remove();
    a.selectAll("line").attr("stroke", "#000").attr("stroke-width", 1.1);
    a.selectAll("text").attr("font-size", tickFont).attr("fill", "#000")
      .attr("font-family", "DejaVu Sans, sans-serif");
  });

  // title
  g.append("text").attr("x", pw / 2).attr("y", -9.3).attr("text-anchor", "middle")
    .attr("font-size", 16.7).attr("fill", "#000").text(galaxies[idx]);

  // axis labels
  if (col === 0) {
    const t = g.append("text").attr("transform", `translate(${-46},${ph / 2}) rotate(-90)`)
      .attr("text-anchor", "middle").attr("font-size", tickFont).attr("fill", "#000");
    mathText(t, [["log", "n"], ["10", "s"], ["(", "n"], ["m", "i"], ["22", "s"], [")", "n"]], tickFont);
  }
  if (row === 1) {
    const t = g.append("text").attr("x", pw / 2).attr("y", ph + 43)
      .attr("text-anchor", "middle").attr("font-size", tickFont).attr("fill", "#000");
    mathText(t, [["log", "n"], ["10", "s"], ["(", "n"], ["M", "i"], ["200", "s"], ["\u2009/\u2009", "n"],
      ["M", "i"], ["\u2299", "s"], ["\u2009)", "n"]], tickFont);
  }
});

// legend
const leg = svg.append("g").attr("transform", "translate(955.5,6.5)");
leg.append("rect").attr("width", 246).attr("height", 48.5).attr("rx", 3)
  .attr("fill", "#fff").attr("fill-opacity", 0.8).attr("stroke", "#cccccc").attr("stroke-width", 1);
const legendPos = [[3, 8, 49.5], [3, 30.5, 49.5], [134.5, 8, 181], [134.5, 30.5, 181]];
models.forEach((name, i) => {
  const [px, py, tx] = legendPos[i];
  leg.append("rect").attr("x", px).attr("y", py).attr("width", 37).attr("height", 7.2)
    .attr("fill", modelColors[i]).attr("opacity", i === 3 ? 1 : 0.55);
  leg.append("text").attr("x", tx).attr("y", py + 10.5).attr("font-size", tickFont)
    .attr("fill", "#000").text(name);
});
</script>
</body>
</html>
